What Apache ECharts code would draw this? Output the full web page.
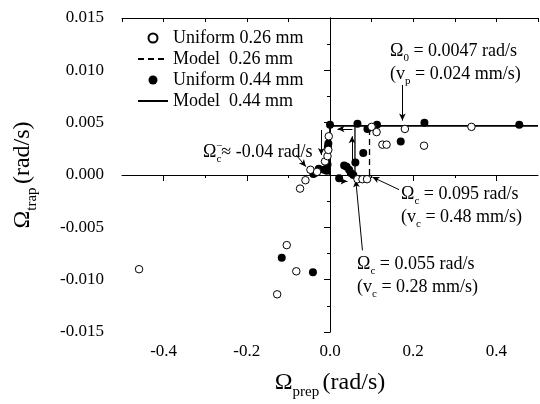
<!DOCTYPE html>
<html>
<head>
<meta charset="utf-8">
<script src="https://cdn.jsdelivr.net/npm/echarts@6/dist/echarts.min.js"></script>
<style>
html,body{margin:0;padding:0;background:#fff;}
#chart{width:540px;height:404px;}
</style>
</head>
<body>
<div id="chart"></div>
<script>
// ---- data ----
const uniform026 = [
  [-0.459, -0.0090], [-0.127, -0.0114], [-0.104, -0.0067], [-0.081, -0.0092],
  [-0.072, -0.0013], [-0.059, -0.0005], [-0.047, 0.0005], [-0.031, 0.0003],
  [-0.012, 0.0013], [-0.006, 0.0018], [-0.004, 0.0024], [-0.003, 0.0037],
  [0.066, -0.0004], [0.078, -0.0004], [0.089, -0.0004], [0.100, 0.0046],
  [0.112, 0.0041], [0.126, 0.0029], [0.136, 0.0029], [0.180, 0.0044],
  [0.226, 0.0028], [0.340, 0.0046]
];
const uniform044 = [
  [-0.116, -0.0079], [-0.041, -0.0093], [-0.040, 0.0001], [-0.036, 0.0002],
  [-0.027, 0.0006], [-0.014, 0.0005], [-0.008, 0.0004], [-0.006, 0.0010],
  [-0.005, 0.0027], [-0.004, 0.0030], [0.000, 0.0048], [0.022, -0.0003],
  [0.034, 0.0009], [0.040, 0.0008], [0.046, 0.0005], [0.050, 0.0002],
  [0.056, 0.0000], [0.061, 0.0012], [0.080, 0.0021], [0.066, 0.0049],
  [0.090, 0.0044], [0.113, 0.0048], [0.170, 0.0032], [0.227, 0.0050],
  [0.455, 0.0048]
];
const model026Jump = [[0.095, 0], [0.095, 0.0047]];
const model044Plateau = [[0, 0], [0, 0.0047], [0.5, 0.0047]];
const model044Jump = [[0.06, 0], [0.06, 0.0047]];
// loop arrows [from, to]
const loopArrows = [
  [[0.054, 0.0044], [0.018, 0.0044]],
  [[-0.021, 0.0043], [-0.021, 0.0019]],
  [[0.053, 0.0011], [0.053, 0.0037]],
  [[0.018, -0.0006], [0.042, -0.0006]]
];
// annotation pointer arrows [from, to]
const noteArrows = [
  [[0.174, 0.0086], [0.174, 0.0052]],
  [[-0.081, 0.0019], [-0.058, 0.0008]],
  [[0.166, -0.0014], [0.102, -0.0002]],
  [[0.078, -0.0072], [0.062, -0.0005]]
];
const xMajorTicks = [-0.4, -0.2, 0.0, 0.2, 0.4];
const xMinorTicks = [-0.3, -0.1, 0.1, 0.3];
const seriesNames = ['Uniform 0.26 mm', 'Model  0.26 mm', 'Uniform 0.44 mm', 'Model  0.44 mm'];

const FONT = 'Liberation Serif';
const chart = echarts.init(document.getElementById('chart'));

const sub = (fs) => ({fontFamily: FONT, fontSize: fs, color: '#000', lineHeight: fs, verticalAlign: 'bottom'});
const big = (fs, lh) => ({fontFamily: FONT, fontSize: fs, color: '#000', lineHeight: lh, verticalAlign: 'middle'});

function arrowLines(list) {
  return list.map(a => [{coord: a[0]}, {coord: a[1]}]);
}

const option = {
  animation: false,
  backgroundColor: '#fff',
  grid: {left: 122, right: 2, top: 18, bottom: 72, containLabel: false, outerBoundsMode: 'none'},
  legend: {
    data: [
      {name: seriesNames[0]},
      {name: seriesNames[1], itemStyle: {opacity: 0}},
      {name: seriesNames[2]},
      {name: seriesNames[3], itemStyle: {opacity: 0}}
    ],
    orient: 'vertical',
    left: 132, top: 24,
    itemGap: 3,
    itemWidth: 30, itemHeight: 9,
    textStyle: {fontFamily: FONT, fontSize: 18, color: '#000'},
    selectedMode: false
  },
  xAxis: [
    {
      type: 'value', min: -0.5, max: 0.5, position: 'bottom',
      axisLine: {lineStyle: {color: '#000', width: 1}},
      axisTick: {customValues: xMajorTicks, length: 6, lineStyle: {color: '#000'}},
      axisLabel: {customValues: xMajorTicks, formatter: v => v.toFixed(1), fontFamily: FONT, fontSize: 17, color: '#000', margin: 11},
      splitLine: {show: false},
      name: '{o|Ω}{s|prep} {o|(rad/s)}',
      nameLocation: 'middle', nameGap: 34,
      nameTextStyle: {rich: {o: big(24, 34), s: sub(15)}}
    },
    {
      type: 'value', min: -0.5, max: 0.5, position: 'bottom',
      axisLine: {show: false},
      axisTick: {customValues: xMinorTicks, length: 3, lineStyle: {color: '#000'}},
      axisLabel: {show: false},
      splitLine: {show: false}
    },
    {
      type: 'value', min: -0.5, max: 0.5, interval: 0.1, position: 'top',
      axisLine: {lineStyle: {color: '#000', width: 1}},
      axisTick: {inside: true, length: 4, lineStyle: {color: '#000'}},
      axisLabel: {show: false},
      splitLine: {show: false}
    }
  ],
  yAxis: [
    {
      type: 'value', min: -0.015, max: 0.015, interval: 0.005, position: 'left',
      axisLine: {show: true, lineStyle: {color: '#000', width: 1}},
      axisTick: {show: true, length: 6, lineStyle: {color: '#000'}},
      minorTick: {show: true, splitNumber: 2, length: 3, lineStyle: {color: '#000'}},
      axisLabel: {formatter: v => v.toFixed(3), fontFamily: FONT, fontSize: 17, color: '#000', margin: 18},
      splitLine: {show: false},
      name: '{o|Ω}{s|trap} {o|(rad/s)}',
      nameLocation: 'middle', nameGap: 82, nameRotate: 90,
      nameTextStyle: {rich: {o: big(24, 34), s: sub(15)}}
    },
    {
      type: 'value', min: -0.015, max: 0.015, interval: 0.005, position: 'right',
      axisLine: {show: true, lineStyle: {color: '#000', width: 1}},
      axisTick: {show: true, inside: true, length: 5, lineStyle: {color: '#000'}},
      minorTick: {show: true, splitNumber: 2, length: 3, lineStyle: {color: '#000'}},
      axisLabel: {show: false},
      splitLine: {show: false}
    }
  ],
  series: [
    {
      name: seriesNames[0], type: 'scatter', xAxisIndex: 0, yAxisIndex: 0,
      data: uniform026, symbol: 'circle', symbolSize: 7.5, z: 5,
      itemStyle: {color: '#fff', borderColor: '#000', borderWidth: 1, opacity: 1},
      markLine: {
        silent: true, symbol: 'none', label: {show: false},
        lineStyle: {color: '#000', width: 1, type: 'solid'},
        data: [{xAxis: 0}, {yAxis: 0}]
      }
    },
    {
      name: seriesNames[1], type: 'line', xAxisIndex: 0, yAxisIndex: 0,
      data: model026Jump, symbol: 'none', z: 3,
      lineStyle: {color: '#000', width: 1.3, type: [6, 4]},
      itemStyle: {color: '#000'}
    },
    {
      name: seriesNames[2], type: 'scatter', xAxisIndex: 0, yAxisIndex: 0,
      data: uniform044, symbol: 'circle', symbolSize: 8, z: 4,
      itemStyle: {color: '#000', borderColor: '#000', borderWidth: 0, opacity: 1}
    },
    {
      name: seriesNames[3], type: 'line', xAxisIndex: 0, yAxisIndex: 0,
      data: model044Plateau, symbol: 'none', z: 3,
      lineStyle: {color: '#000', width: 1.8, type: 'solid'},
      itemStyle: {color: '#000'}
    },
    {
      name: seriesNames[3], type: 'line', xAxisIndex: 0, yAxisIndex: 0,
      data: model044Jump, symbol: 'none', z: 3,
      lineStyle: {color: '#000', width: 1.3, type: 'solid'},
      itemStyle: {color: '#000'},
      markLine: {
        silent: true, symbol: ['none', 'arrow'], symbolSize: [5, 7], label: {show: false},
        lineStyle: {color: '#000', width: 1, type: 'solid'},
        data: arrowLines(loopArrows.concat(noteArrows))
      }
    }
  ],
  graphic: [
    {type: 'text', left: 390, top: 42, style: {
      text: '{o|Ω}{s|0}{o| = 0.0047 rad/s}',
      rich: {o: big(18, 26), s: sub(11)}}},
    {type: 'text', left: 390, top: 65, style: {
      text: '{o|(v}{s|p}{o| = 0.024 mm/s)}',
      rich: {o: big(18, 26), s: sub(11)}}},
    {type: 'text', left: 203, top: 143, style: {
      text: '{o|Ω}{s|c}{o|≈ -0.04 rad/s}',
      rich: {o: big(18, 26), s: sub(11)}}},
    {type: 'text', left: 216, top: 141, style: {
      text: '−', fontFamily: FONT, fontSize: 11, fill: '#000'}},
    {type: 'text', left: 401, top: 185, style: {
      text: '{o|Ω}{s|c}{o| = 0.095 rad/s}',
      rich: {o: big(18, 26), s: sub(11)}}},
    {type: 'text', left: 401, top: 208, style: {
      text: '{o|(v}{s|c}{o| = 0.48 mm/s)}',
      rich: {o: big(18, 26), s: sub(11)}}},
    {type: 'text', left: 357, top: 255, style: {
      text: '{o|Ω}{s|c}{o| = 0.055 rad/s}',
      rich: {o: big(18, 26), s: sub(11)}}},
    {type: 'text', left: 357, top: 278, style: {
      text: '{o|(v}{s|c}{o| = 0.28 mm/s)}',
      rich: {o: big(18, 26), s: sub(11)}}}
  ]
};
chart.setOption(option);
</script>
</body>
</html>
